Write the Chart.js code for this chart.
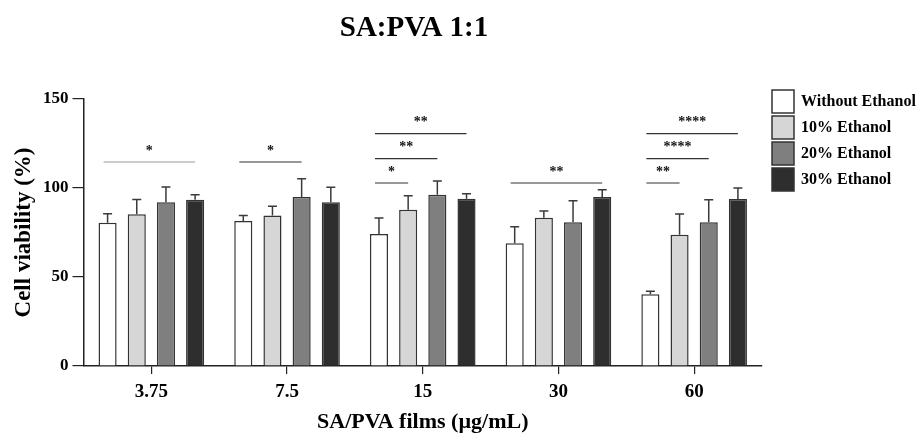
<!DOCTYPE html>
<html>
<head>
<meta charset="utf-8">
<script src="https://cdn.jsdelivr.net/npm/chart.js@4"></script>
<style>
  html, body { margin: 0; padding: 0; background: #fff; }
  #wrap { width: 921px; height: 434px; }
</style>
</head>
<body>
<div id="wrap"><canvas id="grafico"></canvas></div>
<script>
// Datos
const categories = ['3.75', '7.5', '15', '30', '60'];
const seriesNames = ['Without Ethanol', '10% Ethanol', '20% Ethanol', '30% Ethanol'];

const without = [80.5, 81.5, 74.2, 68.9, 40.3];
const eth10 = [85.2, 84.5, 87.8, 83.3, 73.8];
const eth20 = [92.0, 95.0, 96.2, 80.7, 80.7];
const eth30 = [93.4, 92.0, 94.0, 95.0, 93.8];

// desviación (error superior)
const withoutErr = [5.1, 3.0, 8.9, 9.4, 1.7];
const eth10Err = [8.4, 5.2, 7.9, 3.8, 11.6];
const eth20Err = [8.6, 10.2, 7.7, 12.2, 12.7];
const eth30Err = [2.8, 8.4, 2.8, 4.0, 6.2];

const yTicks = [0, 50, 100, 150];

// Significancia: grupo, barra inicial, barra final, altura, etiqueta
const sigGroup = [0, 1, 2, 2, 2, 3, 4, 4, 4];
const sigFrom = [0, 0, 0, 0, 0, 0, 0, 0, 0];
const sigTo = [3, 2, 1, 2, 3, 3, 1, 2, 3];
const sigHeight = [114.6, 114.6, 102.8, 116.5, 130.5, 102.8, 102.8, 116.5, 130.5];
const sigLabel = ['*', '*', '*', '**', '**', '**', '**', '****', '****'];

const fillColors = ['#ffffff', '#d6d6d6', '#7f7f7f', '#2e2e2e'];
const serif = "'Liberation Serif', 'Times New Roman', serif";

const values = [without, eth10, eth20, eth30];
const errors = [withoutErr, eth10Err, eth20Err, eth30Err];

// Barras de error
const errorBars = {
    id: 'errorBars',
    afterDatasetsDraw(chart) {
        const ctx = chart.ctx;
        const y = chart.scales.y;
        ctx.save();
        ctx.strokeStyle = '#3a3a3a';
        ctx.lineWidth = 1.5;
        chart.data.datasets.forEach((ds, di) => {
            const meta = chart.getDatasetMeta(di);
            meta.data.forEach((bar, i) => {
                const top = y.getPixelForValue(values[di][i] + errors[di][i]);
                ctx.beginPath();
                ctx.moveTo(bar.x, bar.y);
                ctx.lineTo(bar.x, top);
                ctx.moveTo(bar.x - 4.5, top);
                ctx.lineTo(bar.x + 4.5, top);
                ctx.stroke();
            });
        });
        ctx.restore();
    }
};

// Líneas de significancia
const sigLines = {
    id: 'sigLines',
    afterDatasetsDraw(chart) {
        const ctx = chart.ctx;
        const y = chart.scales.y;
        ctx.save();
        ctx.lineWidth = 1.2;
        ctx.font = 'bold 14px ' + serif;
        ctx.textAlign = 'center';
        ctx.textBaseline = 'middle';
        sigGroup.forEach((g, k) => {
            const x1 = chart.getDatasetMeta(sigFrom[k]).data[g].x - 4;
            const x2 = chart.getDatasetMeta(sigTo[k]).data[g].x;
            const py = y.getPixelForValue(sigHeight[k]);
            ctx.strokeStyle = k === 0 ? '#9a9a9a' : '#333';
            ctx.beginPath();
            ctx.moveTo(x1, py);
            ctx.lineTo(x2, py);
            ctx.stroke();
            ctx.fillStyle = '#111';
            ctx.fillText(sigLabel[k], (x1 + x2) / 2, py - 11);
        });
        ctx.restore();
    }
};

// Título y leyenda
const titleLegend = {
    id: 'tituloLeyenda',
    afterDraw(chart) {
        const ctx = chart.ctx;
        ctx.save();
        ctx.font = 'bold 29px ' + serif;
        ctx.fillStyle = '#000';
        ctx.textAlign = 'center';
        ctx.textBaseline = 'middle';
        ctx.fillText('SA:PVA 1:1', 414, 29);

        ctx.font = 'bold 16px ' + serif;
        ctx.textAlign = 'left';
        chart.data.datasets.forEach((ds, i) => {
            const top = 90 + i * 26;
            ctx.fillStyle = ds.backgroundColor;
            ctx.fillRect(772, top, 22, 23);
            ctx.strokeStyle = '#333';
            ctx.lineWidth = 1.5;
            ctx.strokeRect(772, top, 22, 23);
            ctx.fillStyle = '#000';
            ctx.fillText(ds.label, 801, top + 12);
        });
        ctx.restore();
    }
};

const ctx1 = document.getElementById('grafico').getContext('2d');

new Chart(ctx1, {
    type: 'bar',
    data: {
        labels: categories,
        datasets: seriesNames.map((name, i) => ({
            label: name,
            data: values[i],
            backgroundColor: fillColors[i],
            borderColor: '#333',
            borderWidth: 1.5,
            categoryPercentage: 0.86,
            barPercentage: 0.62
        }))
    },
    options: {
        responsive: true,
        maintainAspectRatio: false,
        animation: false,
        layout: { padding: { top: 99, left: 13, right: 159, bottom: 1 } },
        plugins: {
            title: { display: false },
            tooltip: { enabled: false },
            legend: { display: false }
        },
        scales: {
            x: {
                grid: { display: true, offset: false, drawOnChartArea: false, tickLength: 8, color: '#222', lineWidth: 1.2 },
                border: { display: true, color: '#222', width: 1.5 },
                ticks: { color: '#000', font: { family: serif, weight: 'bold', size: 19, lineHeight: 1 }, padding: 9 },
                title: { display: true, text: 'SA/PVA films (µg/mL)', color: '#000', font: { family: serif, weight: 'bold', size: 22, lineHeight: 1 }, padding: { top: 0, bottom: 0 } }
            },
            y: {
                min: 0,
                max: 150,
                afterBuildTicks(axis) { axis.ticks = yTicks.map(v => ({ value: v })); },
                grid: { display: true, drawOnChartArea: false, tickLength: 11, color: '#222', lineWidth: 1.2 },
                border: { display: true, color: '#222', width: 1.5 },
                ticks: { color: '#000', font: { family: serif, weight: 'bold', size: 17 }, padding: 4 },
                title: { display: true, text: 'Cell viability (%)', color: '#000', font: { family: serif, weight: 'bold', size: 23, lineHeight: 1 }, padding: { top: 0, bottom: 3 } }
            }
        }
    },
    plugins: [errorBars, sigLines, titleLegend]
});
</script>
</body>
</html>
